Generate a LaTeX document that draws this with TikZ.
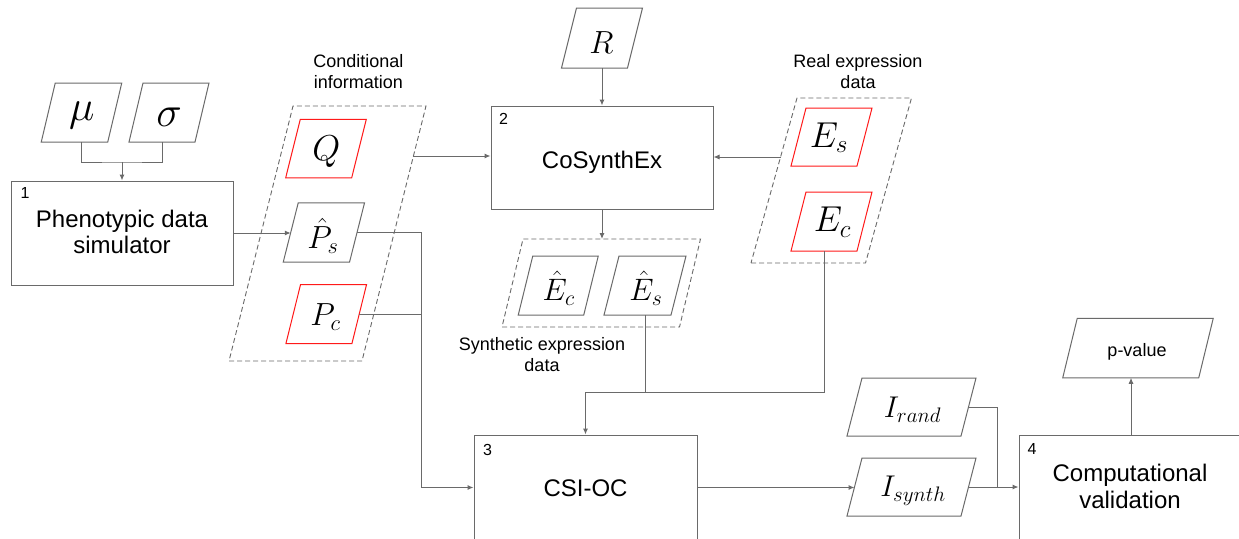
\documentclass[tikz,border=0pt]{standalone}
\usepackage{fix-cm}
\usepackage[no-math]{fontspec}
\setmainfont{Liberation Sans}
\usetikzlibrary{arrows.meta,calc}

\definecolor{wiregray}{HTML}{6A6A6A}
\definecolor{inred}{HTML}{FF1A1A}

\newcommand{\fsz}[1]{\fontsize{#1}{#1}\selectfont}

\tikzset{
  wire/.style={draw=wiregray, line width=1pt},
  arr/.style={wire, -{Latex[length=6pt,width=5pt]}},
  procbox/.style={draw=wiregray, line width=1pt, inner sep=0pt},
  anchorbox/.style={inner sep=0pt, outer sep=0pt},
  plainpg/.style={draw=wiregray, line width=1pt},
  redpg/.style={draw=inred, line width=1pt},
  grouppg/.style={draw=wiregray, line width=0.9pt, dash pattern=on 5pt off 3pt},
  boxtext/.style={font=\fontsize{24}{26.5}\selectfont, align=center, inner sep=0pt},
  steplabel/.style={font=\fsz{16}, inner sep=0pt},
  notetext/.style={font=\fontsize{18}{21}\selectfont, align=center, inner sep=0pt},
  mathtext/.style={anchor=base, inner sep=0pt},
}

% parallelogram: name, centre, mid width, height, half slant, outline style
\newcommand{\pgram}[6]{%
  \node[anchorbox, minimum width=#3pt, minimum height=#4pt] (#1) at (#2) {};
  \draw[#6] ([xshift=-#5pt]#1.south west) -- ([xshift=-#5pt]#1.south east)
    -- ([xshift=#5pt]#1.north east) -- ([xshift=#5pt]#1.north west) -- cycle;
}

\begin{document}
\begin{tikzpicture}[x=1pt,y=-1pt]
\fill[white] (0,0) rectangle (1239,538);
\useasboundingbox (0,0) rectangle (1239,538);
\clip (0,0) rectangle (1239,538);

% ---- process boxes
\node[procbox, minimum width=222pt, minimum height=104pt] (box1) at (122,233) {};
\node[procbox, minimum width=222pt, minimum height=103pt] (box2) at (602,157.5) {};
\node[procbox, minimum width=223pt, minimum height=105pt] (box3) at (585.5,487.5) {};
\node[procbox, minimum width=243pt, minimum height=105pt] (box4) at (1140.5,487.5) {};

\node[boxtext] at (122,231.8) {Phenotypic data\\simulator};
\node[boxtext, anchor=base] at (602,168.3) {CoSynthEx};
\node[boxtext, anchor=base] at (585.5,496) {CSI-OC};
\node[boxtext] at (1130,486.4) {Computational\\validation};

\node[steplabel] at ([xshift=14.5pt,yshift=-12.5pt]box1.north west) {1};
\node[steplabel] at ([xshift=13pt,yshift=-13pt]box2.north west) {2};
\node[steplabel] at ([xshift=14pt,yshift=-15pt]box3.north west) {3};
\node[steplabel] at ([xshift=13.5pt,yshift=-14.5pt]box4.north west) {4};

% ---- data parallelograms
\pgram{mu}{81.5,112.5}{66.5}{59}{7}{plainpg}
\pgram{sig}{169,112.5}{66}{59}{7}{plainpg}
\pgram{condgrp}{327.5,233.5}{133}{255}{32}{grouppg}
\pgram{Q}{326,148.5}{66}{58.5}{7.3}{redpg}
\pgram{Ps}{323.9,232.4}{66.3}{59.3}{7.5}{plainpg}
\pgram{Pc}{326.2,314.2}{66}{59}{7.3}{redpg}
\pgram{R}{602,38}{66}{60}{7.5}{plainpg}
\pgram{realgrp}{831.25,180.5}{114.5}{165}{23}{grouppg}
\pgram{Es}{831.5,137}{66}{58}{7.5}{redpg}
\pgram{Ec}{831.5,221.5}{66}{59}{7.5}{redpg}
\pgram{synthgrp}{601.25,283}{177.5}{88}{10.5}{grouppg}
\pgram{Ehc}{558.25,285.5}{65.5}{59}{7.25}{plainpg}
\pgram{Ehs}{645,285.5}{67}{59}{7.5}{plainpg}
\pgram{Irand}{911.5,407}{114}{58}{7.5}{plainpg}
\pgram{Isynth}{911.5,487}{114}{58}{7.5}{plainpg}
\pgram{pv}{1138,348}{136}{59.5}{7.25}{plainpg}

% ---- symbols
\node[mathtext, font=\fsz{43}] at (81.7,120.2) {$\mu$};
\node[mathtext, font=\fsz{43}] at (169,126.5) {$\sigma$};
\node[mathtext, font=\fsz{36}] at (326.3,160) {$Q$};
\node[mathtext, font=\fsz{32}] at (323,248.7) {$\hat{P}_s$};
\node[mathtext, font=\fsz{32}] at (325.5,325.3) {$P_c$};
\node[mathtext, font=\fsz{32}] at (601.3,53.3) {$R$};
\node[mathtext, font=\fsz{36}] at (829,147.3) {$E_s$};
\node[mathtext, font=\fsz{36}] at (832.5,231.7) {$E_c$};
\node[mathtext, font=\fsz{31}] at (558.7,300.7) {$\hat{E}_c$};
\node[mathtext, font=\fsz{31}] at (645.8,300.7) {$\hat{E}_s$};
\node[mathtext, font=\fsz{30}] at (912.5,417.7) {$I_{rand}$};
\node[mathtext, font=\fsz{30}] at (913,496.7) {$I_{synth}$};
\node[font=\fsz{18}, anchor=base, inner sep=0pt] at (1137,356) {p-value};

% ---- group captions
\node[notetext] at (358.3,71.3) {Conditional\\information};
\node[notetext] at (858,71.3) {Real expression\\data};
\node[notetext] at (542,354.5) {Synthetic expression\\data};

% ---- connectors
\coordinate (mjoin) at (122,162);
\draw[wire] (mu.south) |- (mjoin) -| ([xshift=-7pt]sig.south);
\draw[arr] (mjoin) -- (box1.north);

\draw[arr] (box1.east) -- (box1.east -| Ps.west);

\coordinate (lbus) at (421,487.5);
\draw[arr] (Ps.east) -| (lbus) -- (box3.west);
\draw[wire] (Pc.east) -- (Pc.east -| lbus);

\coordinate (condout) at (413,156);
\draw[arr] (condout) -- (condout -| box2.west);
\coordinate (realout) at (780.5,157);
\draw[arr] (realout) -- (realout -| box2.east);

\draw[arr] (R.south) -- (R.south |- box2.north);
\draw[arr] (box2.south) -- (box2.south |- synthgrp.north);

\coordinate (ejoin) at (645,392);
\draw[arr] (Ehs.south) -- (ejoin) -| (box3.north);
\draw[wire] ([xshift=-7.5pt]Ec.south) |- (ejoin);

\draw[arr] (box3.east) -- (box3.east -| Isynth.west);
\coordinate (rjoin) at (997,487);
\draw[arr] (Isynth.east) -- (Isynth.east -| box4.west);
\draw[wire] (Irand.east) -| (rjoin);

\coordinate (pvin) at ([xshift=-7pt]pv.south);
\draw[arr] (pvin |- box4.north) -- (pvin);
\end{tikzpicture}
\end{document}
